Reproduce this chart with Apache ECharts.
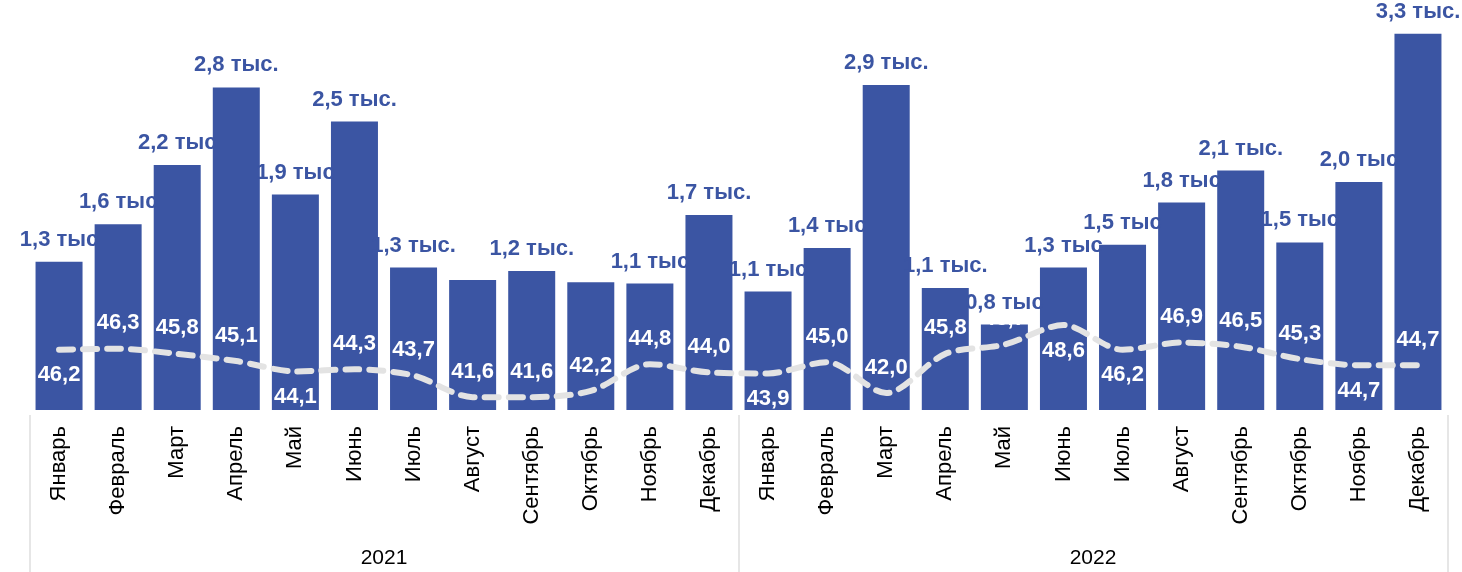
<!DOCTYPE html>
<html>
<head>
<meta charset="utf-8">
<script src="https://cdn.jsdelivr.net/npm/echarts@6/dist/echarts.min.js"></script>
<style>
html,body{margin:0;padding:0;background:#fff;}
#chart{width:1462px;height:572px;}
</style>
</head>
<body>
<div id="chart"></div>
<script>
const months = ['Январь','Февраль','Март','Апрель','Май','Июнь','Июль','Август','Сентябрь','Октябрь','Ноябрь','Декабрь',
                'Январь','Февраль','Март','Апрель','Май','Июнь','Июль','Август','Сентябрь','Октябрь','Ноябрь','Декабрь'];
const years = ['2021','2022'];
// bar values, thousands
const barValues = [1.30,1.63,2.15,2.83,1.89,2.53,1.25,1.14,1.22,1.12,1.11,1.71,
                   1.04,1.42,2.85,1.07,0.75,1.25,1.45,1.82,2.10,1.47,2.00,3.30];
const barLabels = ['1,3 тыс','1,6 тыс','2,2 тыс','2,8 тыс.','1,9 тыс','2,5 тыс.','1,3 тыс.','','1,2 тыс.','','1,1 тыс','1,7 тыс.',
                   '1,1 тыс','1,4 тыс','2,9 тыс.','1,1 тыс.','0,8 тыс','1,3 тыс','1,5 тыс','1,8 тыс','2,1 тыс.','1,5 тыс','2,0 тыс','3,3 тыс.'];
const lineValues = [46.2,46.3,45.8,45.1,44.1,44.3,43.7,41.6,41.6,42.2,44.8,44.0,
                    43.9,45.0,42.0,45.8,46.7,48.6,46.2,46.9,46.5,45.3,44.7,44.7];
const lineLabelBelow = [0,4,12,17,18,22];

const FONT = '"Liberation Sans", Arial, sans-serif';
const BLUE = '#3B55A3';

const chart = echarts.init(document.getElementById('chart'), null, {renderer:'canvas'});
chart.setOption({
  animation:false,
  backgroundColor:'#fff',
  grid:{left:29.5, right:14.5, top:11, bottom:162},
  xAxis:[
    {type:'category', data:months, position:'bottom',
     axisLine:{show:false}, axisTick:{show:false},
     axisLabel:{rotate:90, margin:16, color:'#000', fontSize:22, fontFamily:FONT, interval:0}},
    {type:'category', data:years, position:'bottom', offset:5,
     axisLine:{show:false},
     axisTick:{show:true, length:160, lineStyle:{color:'#E6E6E6', width:2}},
     axisLabel:{margin:133, color:'#000', fontSize:21, fontFamily:FONT}}
  ],
  yAxis:[
    {type:'value', min:0, max:3.5, show:false, splitLine:{show:false}},
    {type:'value', min:40.35, max:79.1, show:false, splitLine:{show:false}}
  ],
  series:[
    {type:'bar', xAxisIndex:0, yAxisIndex:0, barWidth:47,
     itemStyle:{color:BLUE},
     data:barValues.map((v,i)=>({value:v, label:{formatter:barLabels[i]}})),
     label:{show:true, position:'top', distance:11, color:BLUE, fontWeight:'bold', fontSize:22, fontFamily:FONT},
     z:2},
    {type:'line', xAxisIndex:0, yAxisIndex:1, smooth:0.3, symbol:'circle', symbolSize:1, showSymbol:true,
     itemStyle:{color:'rgba(0,0,0,0)'},
     lineStyle:{color:'#E3E3E3', width:6, type:[14,10], cap:'round'},
     data:lineValues.map((v,i)=>({value:v, label:{position: lineLabelBelow.includes(i)?'bottom':'top'}})),
     label:{show:true, distance:14, color:'#fff', fontWeight:'bold', fontSize:22, fontFamily:FONT,
            formatter:p=>p.value.toFixed(1).replace('.',',')},
     labelLayout:{hideOverlap:false},
     z:3}
  ]
});
</script>
</body>
</html>
